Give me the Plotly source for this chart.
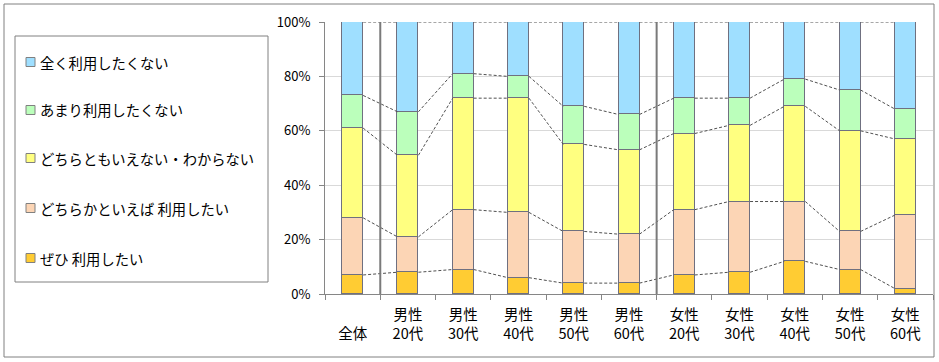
import plotly.graph_objects as go

categories = ["<br>全体", "男性<br>20代", "男性<br>30代", "男性<br>40代", "男性<br>50代", "男性<br>60代",
              "女性<br>20代", "女性<br>30代", "女性<br>40代", "女性<br>50代", "女性<br>60代"]
series_names = ["ぜひ 利用したい", "どちらかといえば 利用したい", "どちらともいえない・わからない",
                "あまり利用したくない", "全く利用したくない"]
zehi = [7, 8, 9, 6, 4, 4, 7, 8, 12, 9, 2]
dochiraka = [21, 13, 22, 24, 19, 18, 24, 26, 22, 14, 27]
dochiramo = [33, 30, 41, 42, 32, 31, 28, 28, 35, 37, 28]
amari = [12, 16, 9, 8, 14, 13, 13, 10, 10, 15, 11]
mattaku = [27, 33, 19, 20, 31, 34, 28, 28, 21, 25, 32]
colors = ["#FFCC33", "#FCD5B5", "#FFFF80", "#BBFFBB", "#9FDFFF"]
group_separators = [0.5, 5.5]
y_ticks = [0, 20, 40, 60, 80, 100]

series = [zehi, dochiraka, dochiramo, amari, mattaku]
W, H = 939, 362
ML, MR, MT, MB = 325, 6, 22, 68
PW, PH = W - ML - MR, H - MT - MB
BAR_W = 0.38
FONT = "Noto Sans CJK JP"

def px_x(px):
    return (px - ML) / PW

def px_y(py):
    return (H - MB - py) / PH

x = list(range(len(categories)))
fig = go.Figure()
for name, vals, col in zip(series_names, series, colors):
    fig.add_trace(go.Bar(x=x, y=vals, name=name, width=BAR_W,
                         marker=dict(color=col, line=dict(color="#6f7080", width=1)),
                         showlegend=False))

# series lines (dashed) connecting segment tops
cum = [0] * len(categories)
for vals in series:
    cum = [c + v for c, v in zip(cum, vals)]
    lx, ly = [], []
    for i in range(len(categories) - 1):
        lx += [x[i] + BAR_W / 2, x[i + 1] - BAR_W / 2, None]
        ly += [cum[i], cum[i + 1], None]
    fig.add_trace(go.Scatter(x=lx, y=ly, mode="lines", showlegend=False, hoverinfo="skip",
                             line=dict(color="#505050", width=1, dash="3px,2px")))

shapes = []
for s in group_separators:
    shapes.append(dict(type="line", xref="x", yref="y", x0=s, x1=s, y0=0, y1=100,
                       line=dict(color="#7a7a7a", width=2)))
# outer border
shapes.append(dict(type="rect", xref="paper", yref="paper", x0=px_x(4), x1=px_x(934),
                   y0=px_y(357), y1=px_y(4), line=dict(color="#808080", width=1)))
# legend box
shapes.append(dict(type="rect", xref="paper", yref="paper", x0=px_x(15), x1=px_x(268),
                   y0=px_y(282), y1=px_y(36), line=dict(color="#808080", width=1)))

annotations = []
legend_y = [258, 208, 158, 110, 62]
for name, col, ly in zip(series_names, colors, legend_y):
    shapes.append(dict(type="rect", xref="paper", yref="paper", x0=px_x(26), x1=px_x(35),
                       y0=px_y(ly + 4.5), y1=px_y(ly - 4.5), fillcolor=col,
                       line=dict(color="#808080", width=1)))
    annotations.append(dict(xref="paper", yref="paper", x=px_x(38), y=px_y(ly), text=name,
                            xanchor="left", yanchor="middle", showarrow=False,
                            font=dict(family=FONT, size=14.3, color="#000000")))

fig.update_layout(
    width=W, height=H, barmode="stack", bargap=0,
    margin=dict(l=ML, r=MR, t=MT, b=MB),
    paper_bgcolor="white", plot_bgcolor="white",
    shapes=shapes, annotations=annotations,
    font=dict(family=FONT, color="#000000"),
    xaxis=dict(range=[-0.5, len(categories) - 0.5], tickvals=x, ticktext=categories,
               ticks="", showgrid=False, showline=True, linecolor="#868686", linewidth=1,
               tickfont=dict(size=14.5, family=FONT), zeroline=False, ticklabelstandoff=8,
               minor=dict(tick0=0.5, dtick=1, ticks="outside", ticklen=5, tickcolor="#868686",
                          showgrid=False)),
    yaxis=dict(range=[0, 100], tickvals=y_ticks, ticktext=[f"{v}%" for v in y_ticks],
               showgrid=True, gridcolor="#d9d9d9", gridwidth=1, showline=True,
               linecolor="#868686", linewidth=1, ticks="outside", ticklen=5,
               tickcolor="#868686", tickfont=dict(size=13, family=FONT), zeroline=False,
               ticklabelstandoff=6),
)
fig.write_html("out.html", config={"displayModeBar": False},
               post_script="document.body.style.margin='0';document.body.style.overflow='hidden';")
